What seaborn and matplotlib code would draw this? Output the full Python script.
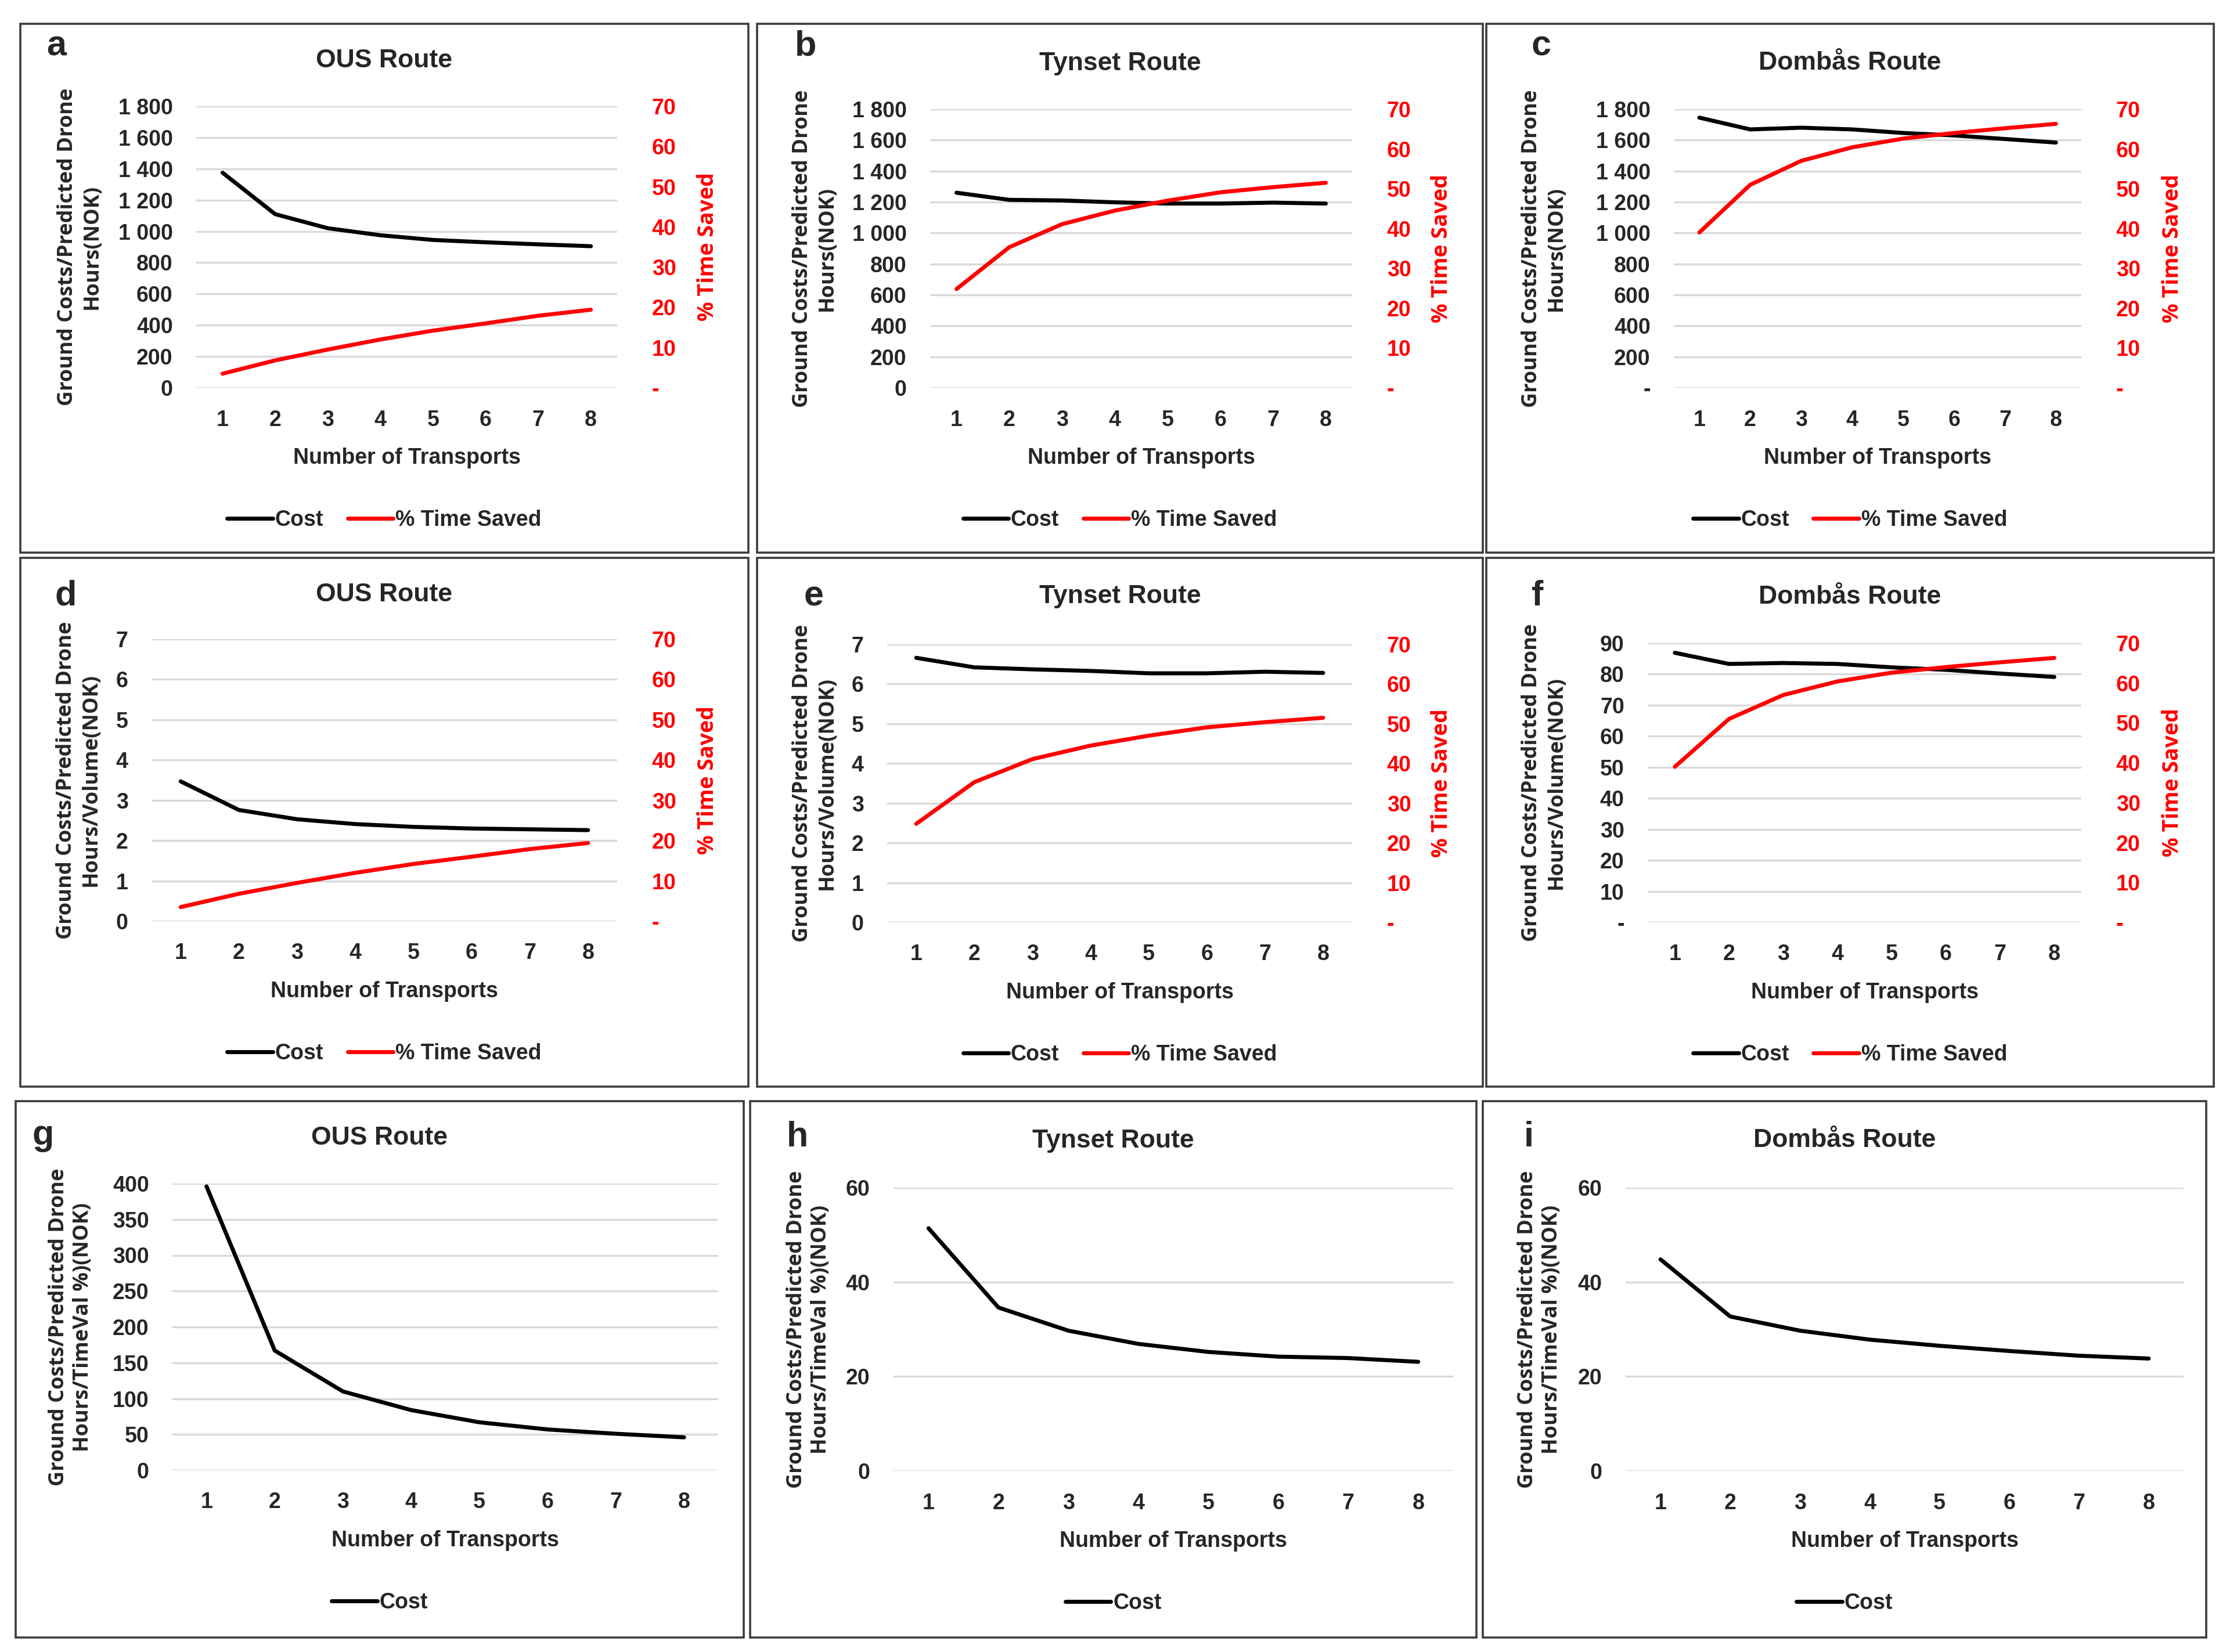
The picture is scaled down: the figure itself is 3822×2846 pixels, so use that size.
import matplotlib
matplotlib.use("Agg")
import matplotlib.pyplot as plt
import seaborn as sns
from matplotlib.patches import Rectangle

# --- data ---
transports = [1, 2, 3, 4, 5, 6, 7, 8]

ous_cost_hours = [1375, 1110, 1020, 975, 945, 930, 917, 905]
tynset_cost_hours = [1260, 1214, 1210, 1198, 1190, 1190, 1196, 1190]
dombas_cost_hours = [1745, 1669, 1680, 1669, 1646, 1630, 1607, 1584]

ous_cost_volume = [3.47, 2.76, 2.53, 2.41, 2.34, 2.30, 2.28, 2.26]
tynset_cost_volume = [6.66, 6.42, 6.37, 6.33, 6.27, 6.27, 6.31, 6.28]
dombas_cost_volume = [86.9, 83.3, 83.6, 83.3, 82.2, 81.4, 80.2, 79.1]

ous_cost_timeval = [396, 167, 110, 84, 67, 57, 51, 46]
tynset_cost_timeval = [51.4, 34.6, 29.7, 26.9, 25.2, 24.2, 23.9, 23.1]
dombas_cost_timeval = [44.8, 32.7, 29.7, 27.8, 26.5, 25.4, 24.4, 23.8]

ous_time_saved = [3.5, 6.8, 9.5, 12.0, 14.2, 16.0, 17.9, 19.4]
tynset_time_saved = [24.8, 35.3, 41.1, 44.5, 47.0, 49.1, 50.4, 51.5]
dombas_time_saved = [39.0, 51.0, 57.0, 60.4, 62.6, 64.0, 65.2, 66.3]

hours_ticks = [0, 200, 400, 600, 800, 1000, 1200, 1400, 1600, 1800]
volume_ticks = [0, 1, 2, 3, 4, 5, 6, 7]
dombas_volume_ticks = [0, 10, 20, 30, 40, 50, 60, 70, 80, 90]
ous_timeval_ticks = [0, 50, 100, 150, 200, 250, 300, 350, 400]
timeval_ticks = [0, 20, 40, 60]
time_saved_ticks = [0, 10, 20, 30, 40, 50, 60, 70]

routes = ["OUS Route", "Tynset Route", "Dombås Route"]
ylabel_top = "Ground Costs/Predicted Drone"
ylabel_bottoms = ["Hours(NOK)", "Hours/Volume(NOK)", "Hours/TimeVal %)(NOK)"]

# --- layout (pixels of the 3823 x 2846 canvas) ---
W, H = 3823, 2846
# letter, route, bottom label, cost, time, ticks, zero as dash,
# box (l, r, t, b), plot (l, r, t, b), letter xy, title y, ylabel x, red label x
panels = [
    ("a", 0, 0, ous_cost_hours, ous_time_saved, hours_ticks, False,
     (35, 1289, 41, 952), (338, 1063, 183, 668), (80, 95), 104, 137, 1219),
    ("b", 1, 0, tynset_cost_hours, tynset_time_saved, hours_ticks, False,
     (1304, 2554, 41, 952), (1602, 2329, 188, 668), (1369, 95), 109, 1403, 2483),
    ("c", 2, 0, dombas_cost_hours, dombas_time_saved, hours_ticks, True,
     (2560, 3813, 41, 952), (2883, 3585, 188, 668), (2638, 95), 109, 2659, 3742),
    ("d", 0, 1, ous_cost_volume, ous_time_saved, volume_ticks, False,
     (35, 1289, 961, 1872), (261, 1063, 1101, 1587), (95, 1042), 1024, 135, 1219),
    ("e", 1, 1, tynset_cost_volume, tynset_time_saved, volume_ticks, False,
     (1304, 2554, 961, 1872), (1528, 2329, 1110, 1589), (1385, 1043), 1028, 1403, 2483),
    ("f", 2, 1, dombas_cost_volume, dombas_time_saved, dombas_volume_ticks, True,
     (2560, 3813, 961, 1872), (2838, 3585, 1108, 1589), (2638, 1043), 1028, 2659, 3742),
    ("g", 0, 2, ous_cost_timeval, None, ous_timeval_ticks, False,
     (27, 1281, 1897, 2821), (297, 1237, 2039, 2533), (56, 1972), 1960, 122, None),
    ("h", 1, 2, tynset_cost_timeval, None, timeval_ticks, False,
     (1292, 2543, 1897, 2821), (1539, 2503, 2046, 2534), (1355, 1975), 1966, 1393, None),
    ("i", 2, 2, dombas_cost_timeval, None, timeval_ticks, False,
     (2554, 3800, 1897, 2821), (2800, 3761, 2046, 2534), (2625, 1975), 1965, 2652, None),
]


def fx(px):
    return px / W


def fy(py):
    return 1 - py / H


def fmt_tick(v, dash_zero):
    if v == 0:
        return "-" if dash_zero else "0"
    return f"{v:,}".replace(",", " ")


sns.set_theme(style="white")
plt.rcParams["font.family"] = ["Liberation Sans", "DejaVu Sans"]
plt.rcParams["font.weight"] = "bold"

fig = plt.figure(figsize=(W / 100, H / 100), dpi=100)
fig.patch.set_facecolor("white")

TICK_FS = 27
RED = "#ff0000"
LABEL_FONT = ["Open Sans", "DejaVu Sans"]

for (letter, route_i, row, cost, time, yticks, dash_zero, box, plot,
     letter_xy, title_y, ylab_x, red_x) in panels:
    bl, br, bt, bb = box
    fig.patches.append(Rectangle((fx(bl), fy(bb)), fx(br - bl), (bb - bt) / H,
                                 transform=fig.transFigure, fill=False,
                                 edgecolor="#3c3c3c", linewidth=2.6))

    pl, pr, pt, pb = plot
    ax = fig.add_axes([fx(pl), fy(pb), fx(pr - pl), (pb - pt) / H])
    ax.set_facecolor("none")

    sns.lineplot(x=transports, y=cost, ax=ax, color="black", linewidth=5,
                 label="Cost", legend=False)
    ax.set_xlim(0.5, 8.5)
    ax.set_ylim(0, yticks[-1])
    ax.set_yticks(yticks)
    ax.set_yticklabels([fmt_tick(v, dash_zero) for v in yticks])
    ax.set_xticks(transports)
    ax.set_xticklabels([str(t) for t in transports])
    ax.set_xlabel("")
    ax.set_ylabel("")
    ax.yaxis.grid(True, color="#d9d9d9", linewidth=2.4)
    ax.xaxis.grid(False)
    ax.set_axisbelow(True)
    for s in ax.spines.values():
        s.set_visible(False)
    ax.tick_params(axis="y", length=0, pad=29, labelsize=TICK_FS)
    ax.tick_params(axis="x", length=0, pad=27, labelsize=TICK_FS)

    handles = list(ax.get_lines())
    if time is not None:
        ax2 = ax.twinx()
        sns.lineplot(x=transports, y=time, ax=ax2, color=RED, linewidth=5,
                     label="% Time Saved", legend=False)
        ax2.set_ylim(0, 70)
        ax2.set_yticks(time_saved_ticks)
        ax2.set_yticklabels([fmt_tick(v, True) for v in time_saved_ticks])
        ax2.set_ylabel("")
        ax2.grid(False)
        for s in ax2.spines.values():
            s.set_visible(False)
        ax2.tick_params(axis="y", length=0, pad=43, labelsize=TICK_FS,
                        labelcolor=RED)
        handles += list(ax2.get_lines())
        fig.text(fx(red_x), fy((pt + pb) / 2), "% Time Saved", rotation=90,
                 ha="center", va="center", color=RED, fontsize=27,
                 family=LABEL_FONT, weight="bold")

    box_cx = (bl + br) / 2
    fig.text(fx(box_cx), fy(title_y), routes[route_i], ha="center",
             va="center", fontsize=32, weight="bold")
    fig.text(fx(letter_xy[0]), fy(letter_xy[1]), letter, ha="left",
             va="baseline", fontsize=44, weight="bold")
    fig.text(fx(ylab_x), fy((pt + pb) / 2),
             ylabel_top + "\n" + ylabel_bottoms[row], rotation=90,
             ha="center", va="center", multialignment="center",
             linespacing=1.25, fontsize=26, family=LABEL_FONT, weight="bold")
    fig.text(fx((pl + pr) / 2), fy(pb + 121), "Number of Transports",
             ha="center", va="center", fontsize=27, weight="bold")
    fig.legend(handles, [h.get_label() for h in handles], loc="center",
               bbox_to_anchor=(fx(box_cx), fy(pb + 228)), ncol=2,
               frameon=False, fontsize=27, handlelength=2.1,
               handletextpad=0.1, columnspacing=1.1)

fig.savefig("out.png", dpi=100, facecolor="white")
